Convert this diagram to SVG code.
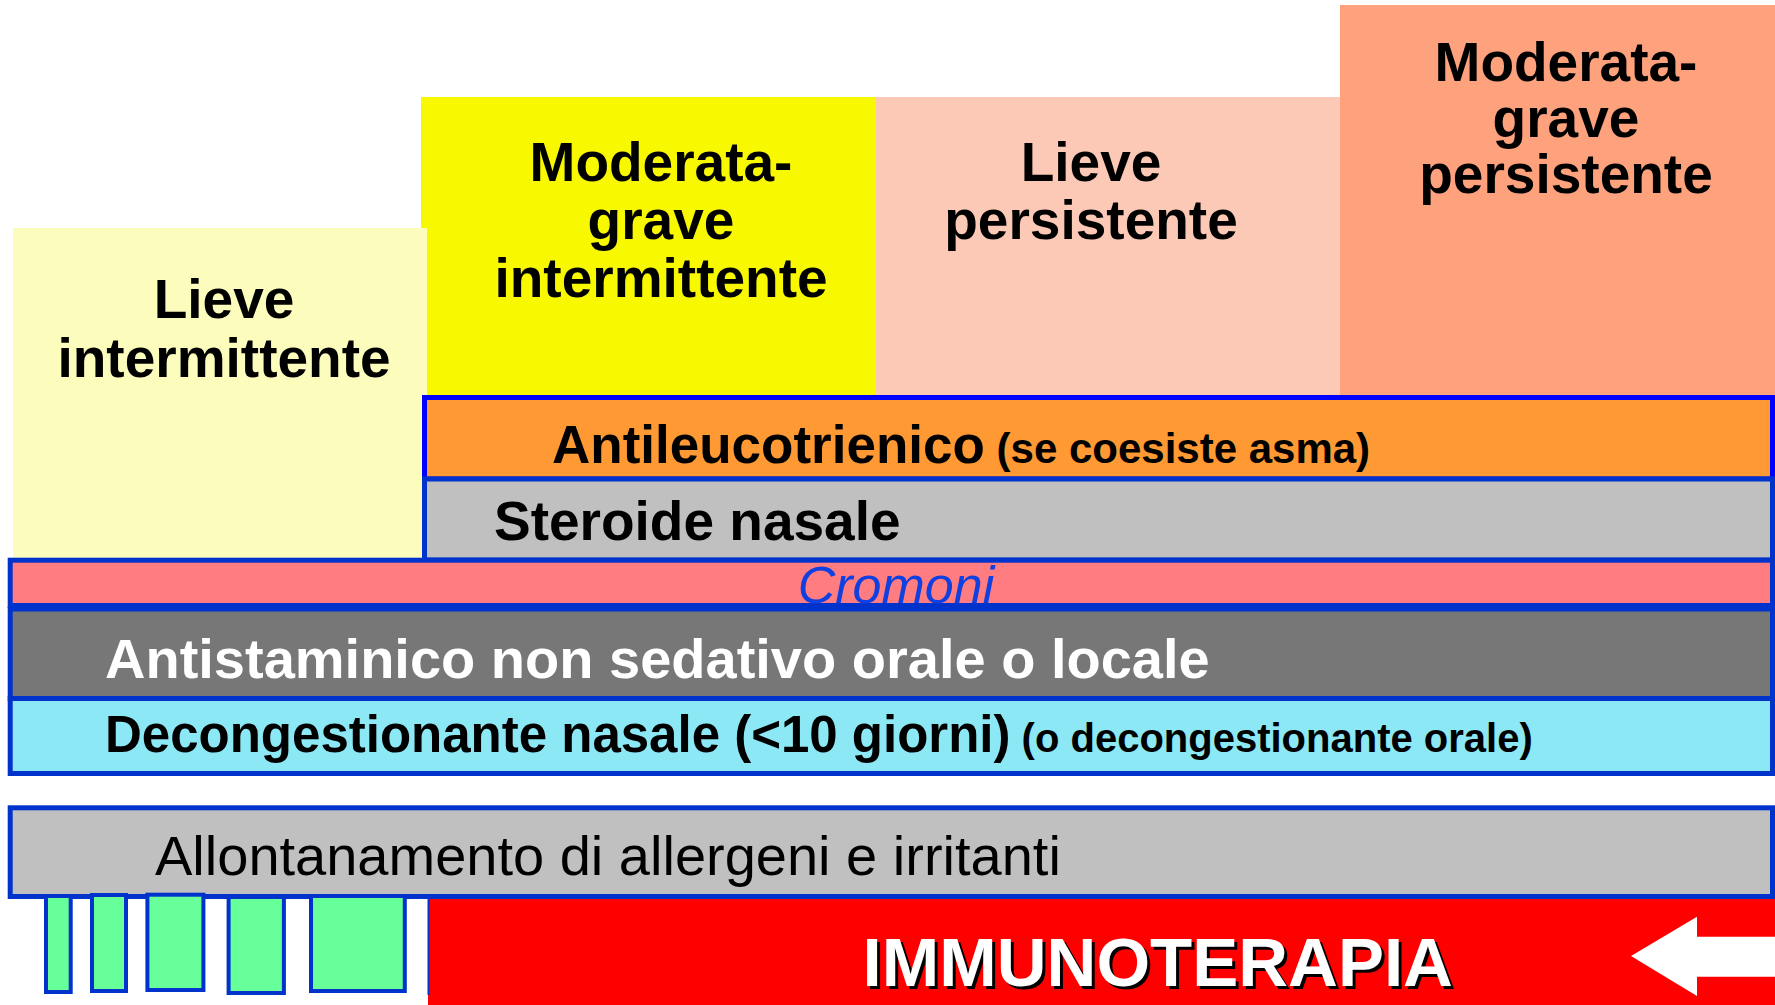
<svg xmlns="http://www.w3.org/2000/svg" width="1775" height="1005" viewBox="0 0 1775 1005">
<style>
text{font-family:"Liberation Sans",Arial,Helvetica,sans-serif}
.hd{font-size:55px;font-weight:bold;fill:#000;text-anchor:middle}
.b{font-weight:bold}
.bar{stroke:#0033CC;stroke-width:5}
.grn{fill:#66FF99;stroke:#0033CC;stroke-width:4}
</style>
<rect width="1775" height="1005" fill="#FFFFFF"/>
<g id="moderata-grave-intermittente">
<rect x="421" y="97" width="455" height="300" fill="#F8F800"/>
<text class="hd"><tspan x="661" y="181">Moderata-</tspan><tspan x="661" y="239">grave</tspan><tspan x="661" y="297">intermittente</tspan></text>
</g>
<g id="lieve-intermittente">
<rect x="13" y="228" width="414" height="330" fill="#FCFCBC"/>
<text class="hd"><tspan x="224" y="318">Lieve</tspan><tspan x="224" y="377">intermittente</tspan></text>
</g>
<g id="lieve-persistente">
<rect x="876" y="97" width="464" height="300" fill="#FBC9B5"/>
<text class="hd"><tspan x="1091" y="181">Lieve</tspan><tspan x="1091" y="239">persistente</tspan></text>
</g>
<g id="moderata-grave-persistente">
<rect x="1340" y="5" width="435" height="392" fill="#FDA27D"/>
<text class="hd"><tspan x="1566" y="81">Moderata-</tspan><tspan x="1566" y="137">grave</tspan><tspan x="1566" y="193">persistente</tspan></text>
</g>
<g id="antileucotrienico">
<rect x="424.5" y="397.5" width="1348" height="81.5" fill="#FF9933" stroke="#0000FF" stroke-width="5"/>
<text x="552" y="463" font-size="53" class="b">Antileucotrienico<tspan font-size="42"> (se coesiste asma)</tspan></text>
</g>
<g id="steroide-nasale">
<rect x="424.5" y="479" width="1348" height="81" fill="#C0C0C0" class="bar"/>
<text x="494" y="540" font-size="55" class="b">Steroide nasale</text>
</g>
<g id="cromoni">
<rect x="10.2" y="560.2" width="1762.3" height="45.3" fill="#FF7C80" class="bar"/>
<text x="896" y="602.5" font-size="52" font-style="italic" fill="#1040E0" text-anchor="middle">Cromoni</text>
</g>
<g id="antistaminico">
<rect x="10.2" y="609" width="1762.3" height="89.5" fill="#777777" class="bar"/>
<text x="105" y="677.5" font-size="56" class="b" fill="#FFFFFF">Antistaminico non sedativo orale o locale</text>
</g>
<g id="decongestionante">
<rect x="10.2" y="698.5" width="1762.3" height="75" fill="#8CE8F5" class="bar"/>
<text x="105" y="752" font-size="51" class="b">Decongestionante nasale (&lt;10 giorni)<tspan font-size="40"> (o decongestionante orale)</tspan></text>
</g>
<g id="allontanamento">
<rect x="10.2" y="807.8" width="1762.3" height="88.7" fill="#C0C0C0" class="bar"/>
<text x="155" y="875" font-size="56">Allontanamento di allergeni e irritanti</text>
</g>
<g id="green-bars">
<rect class="grn" x="46" y="896" width="24.7" height="96"/>
<rect class="grn" x="92" y="895" width="34" height="96"/>
<rect class="grn" x="147.4" y="894.7" width="56" height="95.3"/>
<rect class="grn" x="228.6" y="897" width="55.3" height="96"/>
<rect class="grn" x="311" y="896" width="93.8" height="95"/>
</g>
<g id="immunoterapia">
<rect x="428" y="899" width="1347" height="106" fill="#FF0000"/>
<line x1="428.5" y1="899" x2="428.5" y2="995" stroke="#0033CC" stroke-width="2"/>
<text x="865.6" y="989" font-size="69" class="b" fill="#000000">IMMUNOTERAPIA</text>
<text x="862.6" y="986" font-size="69" class="b" fill="#FFFFFF">IMMUNOTERAPIA</text>
</g>
<g id="connectors">
<polygon points="1631,956 1697,916.7 1697,936.7 1775,936.7 1775,976.7 1697,976.7 1697,996" fill="#FFFFFF"/>
</g>
</svg>
